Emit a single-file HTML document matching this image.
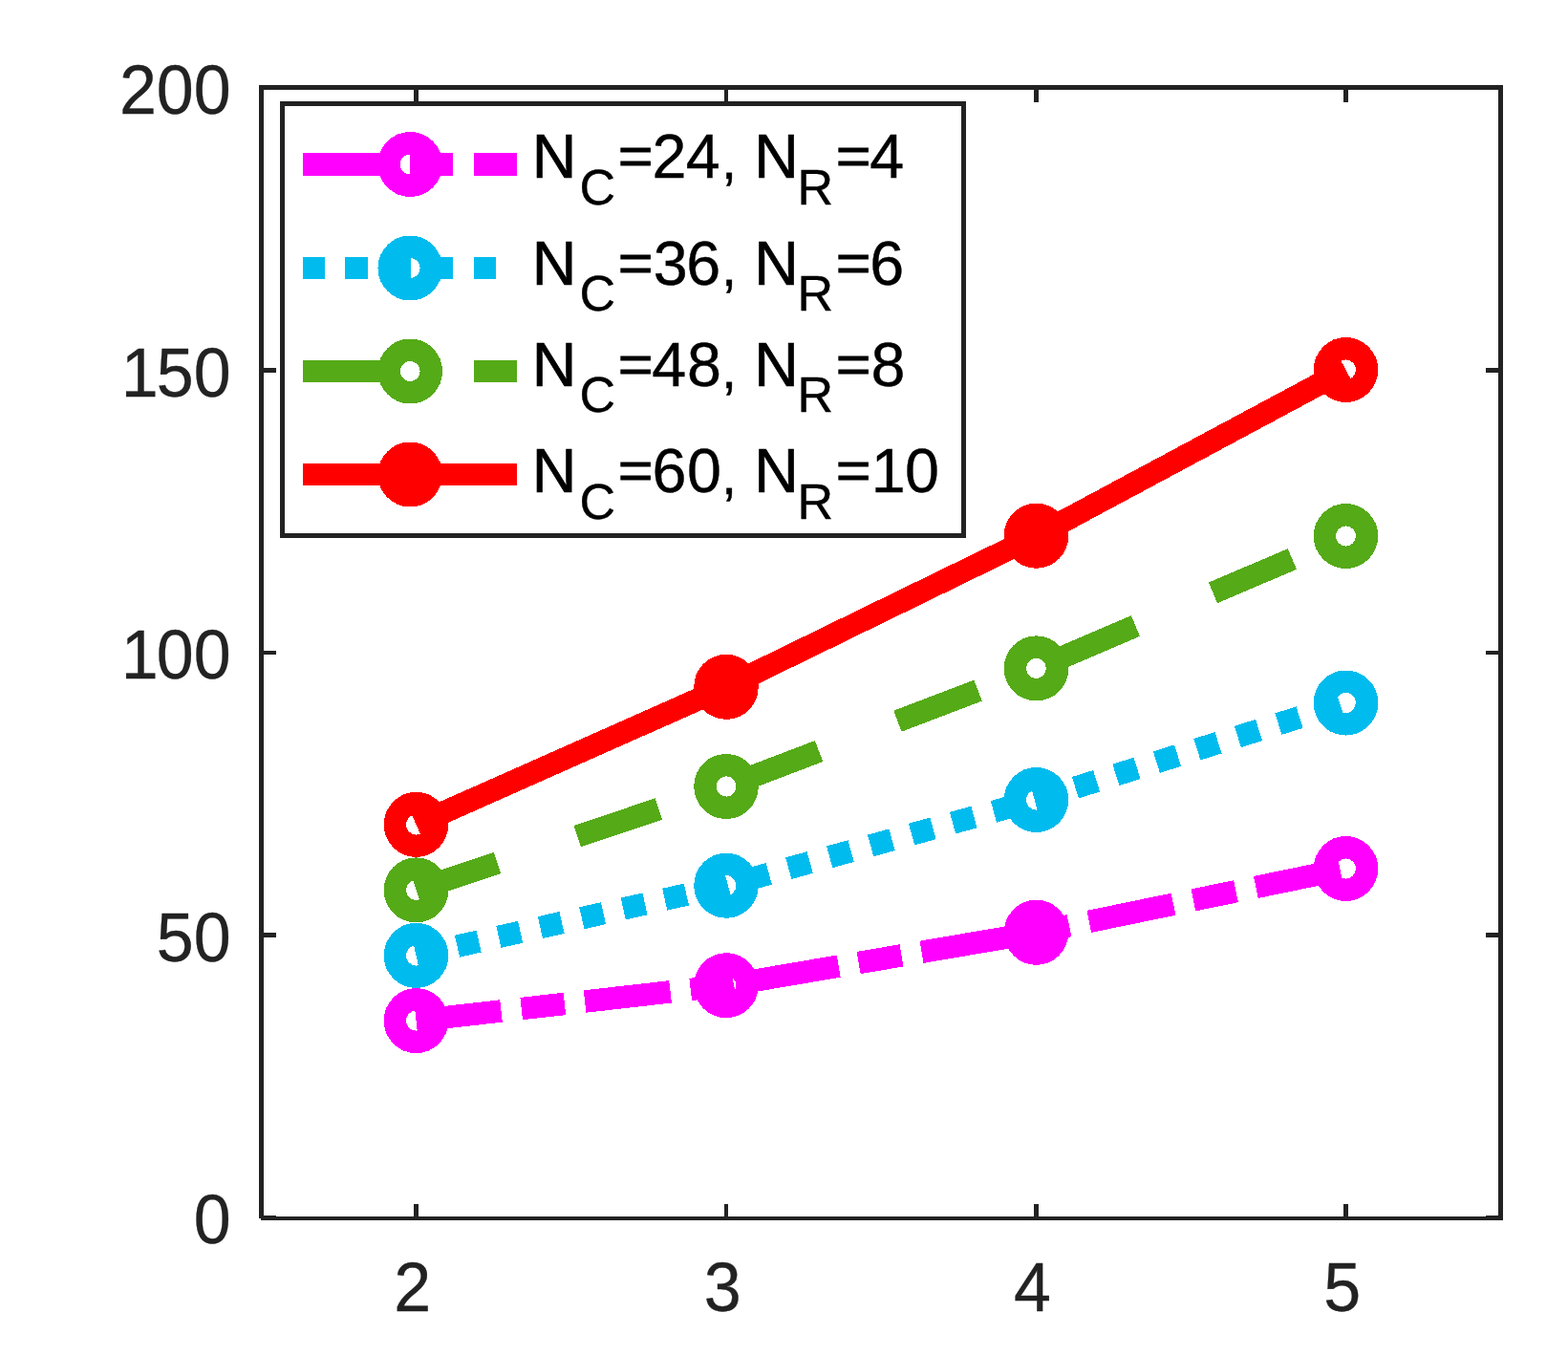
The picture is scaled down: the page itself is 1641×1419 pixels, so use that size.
<!DOCTYPE html>
<html lang="en"><head><meta charset="utf-8"><title>Plot</title>
<style>html,body{margin:0;padding:0;background:#fff;}body{width:1641px;height:1419px;overflow:hidden;}svg{display:block;}text{font-family:"Liberation Sans",Arial,Helvetica,sans-serif;fill:#222222;}text.lg{fill:#000;stroke:#000;}.tk text{stroke:#222222;}</style>
</head><body>
<svg width="1641" height="1419" viewBox="0 0 1641 1419">
<rect x="0" y="0" width="1641" height="1419" fill="#ffffff"/>
<g fill="#222222" shape-rendering="crispEdges">
<rect x="271" y="89" width="1302" height="5"/>
<rect x="273" y="1273" width="1300" height="4"/>
<rect x="271" y="89" width="5" height="1186"/>
<rect x="1568" y="89" width="5" height="1188"/>
<rect x="433" y="1260" width="5" height="13"/>
<rect x="433" y="94" width="5" height="13"/>
<rect x="758" y="1260" width="4" height="13"/>
<rect x="758" y="94" width="4" height="13"/>
<rect x="1082" y="1260" width="5" height="13"/>
<rect x="1082" y="94" width="5" height="13"/>
<rect x="1406" y="1260" width="5" height="13"/>
<rect x="1406" y="94" width="5" height="13"/>
<rect x="276" y="89" width="13" height="5"/>
<rect x="1555" y="89" width="13" height="5"/>
<rect x="276" y="385" width="13" height="5"/>
<rect x="1555" y="385" width="13" height="5"/>
<rect x="276" y="681" width="13" height="4"/>
<rect x="1555" y="681" width="13" height="4"/>
<rect x="276" y="976" width="13" height="5"/>
<rect x="1555" y="976" width="13" height="5"/>
<rect x="276" y="1272" width="13" height="5"/>
<rect x="1555" y="1272" width="13" height="5"/>
</g>
<g shape-rendering="crispEdges">
<polyline points="435.5,1068.1 760,1031.2 1084.5,975.8 1408.5,909" fill="none" stroke="#ff00ff" stroke-width="23.5" stroke-linejoin="round" stroke-dasharray="90.10 21.27 45.55 21.27" stroke-dashoffset="0.50"/>
<polyline points="435.5,999.9 760,926.7 1084.5,837 1408.5,735.5" fill="none" stroke="#00bcee" stroke-width="23.5" stroke-linejoin="round" stroke-dasharray="23.27 21.27" stroke-dashoffset="0.50"/>
<polyline points="435.5,931.4 760,823 1084.5,699.4 1408.5,561" fill="none" stroke="#55aa17" stroke-width="23.5" stroke-linejoin="round" stroke-dasharray="90.10 88.10" stroke-dashoffset="0.50"/>
<polyline points="435.5,862.9 760,718.8 1084.5,560.7 1408.5,387" fill="none" stroke="#ff0000" stroke-width="23.5" stroke-linejoin="round"/>
<ellipse cx="435.5" cy="1068.1" rx="22.05" ry="22.3" fill="none" stroke="#ff00ff" stroke-width="23.4"/>
<ellipse cx="760" cy="1031.2" rx="22.05" ry="22.3" fill="none" stroke="#ff00ff" stroke-width="23.4"/>
<ellipse cx="1084.5" cy="975.8" rx="22.05" ry="22.3" fill="none" stroke="#ff00ff" stroke-width="23.4"/>
<ellipse cx="1408.5" cy="909" rx="22.05" ry="22.3" fill="none" stroke="#ff00ff" stroke-width="23.4"/>
<ellipse cx="435.5" cy="999.9" rx="22.05" ry="22.3" fill="none" stroke="#00bcee" stroke-width="23.4"/>
<ellipse cx="760" cy="926.7" rx="22.05" ry="22.3" fill="none" stroke="#00bcee" stroke-width="23.4"/>
<ellipse cx="1084.5" cy="837" rx="22.05" ry="22.3" fill="none" stroke="#00bcee" stroke-width="23.4"/>
<ellipse cx="1408.5" cy="735.5" rx="22.05" ry="22.3" fill="none" stroke="#00bcee" stroke-width="23.4"/>
<ellipse cx="435.5" cy="931.4" rx="22.05" ry="22.3" fill="none" stroke="#55aa17" stroke-width="23.4"/>
<ellipse cx="760" cy="823" rx="22.05" ry="22.3" fill="none" stroke="#55aa17" stroke-width="23.4"/>
<ellipse cx="1084.5" cy="699.4" rx="22.05" ry="22.3" fill="none" stroke="#55aa17" stroke-width="23.4"/>
<ellipse cx="1408.5" cy="561" rx="22.05" ry="22.3" fill="none" stroke="#55aa17" stroke-width="23.4"/>
<ellipse cx="435.5" cy="862.9" rx="22.05" ry="22.3" fill="none" stroke="#ff0000" stroke-width="23.4"/>
<ellipse cx="760" cy="718.8" rx="22.05" ry="22.3" fill="none" stroke="#ff0000" stroke-width="23.4"/>
<ellipse cx="1084.5" cy="560.7" rx="22.05" ry="22.3" fill="none" stroke="#ff0000" stroke-width="23.4"/>
<ellipse cx="1408.5" cy="387" rx="22.05" ry="22.3" fill="none" stroke="#ff0000" stroke-width="23.4"/>
</g>
<rect x="295.5" y="108.5" width="713" height="452" fill="#ffffff" stroke="#222222" stroke-width="5" shape-rendering="crispEdges"/>
<line x1="317" y1="172" x2="541" y2="172" stroke="#ff00ff" stroke-width="23.5" stroke-dasharray="90.68 21.42 45.84 21.42" stroke-dashoffset="0.50" shape-rendering="crispEdges"/>
<ellipse cx="429.25" cy="172" rx="22.05" ry="22.3" fill="none" stroke="#ff00ff" stroke-width="23.4" shape-rendering="crispEdges"/>
<text class="lg" font-size="64.6" stroke-width="0.4" y="185.50" xml:space="preserve"><tspan x="556.7" font-size="64.5" stroke-width="0.7">N</tspan><tspan x="606.5" y="214.30" font-size="52">C</tspan><tspan x="646.7" y="181.65" font-size="56.4" textLength="36.79" lengthAdjust="spacingAndGlyphs" stroke-width="0.8">=</tspan><tspan x="682.53 717.63" y="185.50">24</tspan><tspan x="754.9" y="187.40" font-size="58">,</tspan><tspan x="772" y="185.50"> </tspan><tspan x="789.2" font-size="64.5" stroke-width="0.7">N</tspan><tspan x="834.6" y="214.30" font-size="52">R</tspan><tspan x="874.7" y="181.65" font-size="56.4" textLength="36.79" lengthAdjust="spacingAndGlyphs" stroke-width="0.8">=</tspan><tspan x="910.23" y="185.50">4</tspan></text>
<line x1="317" y1="280.5" x2="539" y2="280.5" stroke="#00bcee" stroke-width="23.5" stroke-dasharray="23.42 21.42" stroke-dashoffset="0.50" shape-rendering="crispEdges"/>
<ellipse cx="429.25" cy="280.5" rx="22.05" ry="22.3" fill="none" stroke="#00bcee" stroke-width="23.4" shape-rendering="crispEdges"/>
<text class="lg" font-size="64.6" stroke-width="0.4" y="297.50" xml:space="preserve"><tspan x="556.7" font-size="64.5" stroke-width="0.7">N</tspan><tspan x="606.5" y="325.40" font-size="52">C</tspan><tspan x="646.7" y="293.65" font-size="56.4" textLength="36.79" lengthAdjust="spacingAndGlyphs" stroke-width="0.8">=</tspan><tspan x="683.73 718.33" y="297.50">36</tspan><tspan x="754.9" y="299.40" font-size="58">,</tspan><tspan x="772" y="297.50"> </tspan><tspan x="789.2" font-size="64.5" stroke-width="0.7">N</tspan><tspan x="834.6" y="325.40" font-size="52">R</tspan><tspan x="874.7" y="293.65" font-size="56.4" textLength="36.79" lengthAdjust="spacingAndGlyphs" stroke-width="0.8">=</tspan><tspan x="910.33" y="297.50">6</tspan></text>
<line x1="317" y1="388.5" x2="541" y2="388.5" stroke="#55aa17" stroke-width="23.5" stroke-dasharray="90.68 88.68" stroke-dashoffset="0.50" shape-rendering="crispEdges"/>
<ellipse cx="429.25" cy="388.5" rx="22.05" ry="22.3" fill="none" stroke="#55aa17" stroke-width="23.4" shape-rendering="crispEdges"/>
<text class="lg" font-size="64.6" stroke-width="0.4" y="403.70" xml:space="preserve"><tspan x="556.7" font-size="64.5" stroke-width="0.7">N</tspan><tspan x="606.5" y="431.40" font-size="52">C</tspan><tspan x="646.7" y="399.65" font-size="56.4" textLength="36.79" lengthAdjust="spacingAndGlyphs" stroke-width="0.8">=</tspan><tspan x="682.33 719.03" y="403.70">48</tspan><tspan x="754.9" y="405.60" font-size="58">,</tspan><tspan x="772" y="403.70"> </tspan><tspan x="789.2" font-size="64.5" stroke-width="0.7">N</tspan><tspan x="834.6" y="431.40" font-size="52">R</tspan><tspan x="874.7" y="399.65" font-size="56.4" textLength="36.79" lengthAdjust="spacingAndGlyphs" stroke-width="0.8">=</tspan><tspan x="911.53" y="403.70">8</tspan></text>
<line x1="317" y1="496.5" x2="541" y2="496.5" stroke="#ff0000" stroke-width="23.5" shape-rendering="crispEdges"/>
<ellipse cx="429.25" cy="496.5" rx="22.05" ry="22.3" fill="none" stroke="#ff0000" stroke-width="23.4" shape-rendering="crispEdges"/>
<text class="lg" font-size="64.6" stroke-width="0.4" y="514.70" xml:space="preserve"><tspan x="556.7" font-size="64.5" stroke-width="0.7">N</tspan><tspan x="606.5" y="543.40" font-size="52">C</tspan><tspan x="646.7" y="510.65" font-size="56.4" textLength="36.79" lengthAdjust="spacingAndGlyphs" stroke-width="0.8">=</tspan><tspan x="682.43 719.03" y="514.70">60</tspan><tspan x="754.9" y="516.60" font-size="58">,</tspan><tspan x="772" y="514.70"> </tspan><tspan x="789.2" font-size="64.5" stroke-width="0.7">N</tspan><tspan x="834.6" y="543.40" font-size="52">R</tspan><tspan x="874.7" y="510.65" font-size="56.4" textLength="36.79" lengthAdjust="spacingAndGlyphs" stroke-width="0.8">=</tspan><tspan x="911.83 946.98" y="514.70">10</tspan></text>
<g class="tk" font-size="70" stroke-width="0.3">
<text transform="translate(0,118.9) scale(1,1.03)" x="124.91 163.84 202.77" y="0">200</text>
<text transform="translate(0,414.9) scale(1,1.03)" x="126.71 163.84 202.77" y="0">150</text>
<text transform="translate(0,709.9) scale(1,1.03)" x="126.71 163.84 202.77" y="0">100</text>
<text transform="translate(0,1005.7) scale(1,1.03)" x="163.84 202.77" y="0">50</text>
<text transform="translate(0,1300.8) scale(1,1.03)" x="202.77" y="0">0</text>
<text transform="translate(0,1371.8) scale(1,1.03)" x="431.7" y="0" text-anchor="middle">2</text>
<text transform="translate(0,1371.8) scale(1,1.03)" x="756.2" y="0" text-anchor="middle">3</text>
<text transform="translate(0,1371.8) scale(1,1.03)" x="1080.4" y="0" text-anchor="middle">4</text>
<text transform="translate(0,1371.8) scale(1,1.03)" x="1404.7" y="0" text-anchor="middle">5</text>
</g>
</svg>
</body></html>
